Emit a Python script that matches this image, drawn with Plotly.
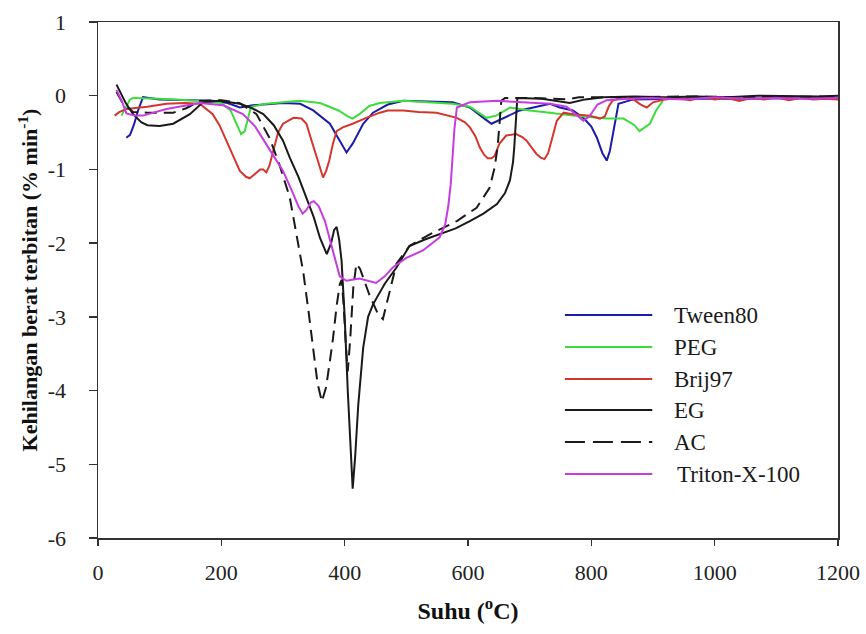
import plotly.graph_objects as go

# ---------------- data ----------------
series_names = ["Tween80", "PEG", "Brij97", "EG", "AC", "Triton-X-100"]

tween80_x = [46, 52, 58, 65, 73, 100, 186, 210, 230, 251, 300, 328, 349, 365, 376, 392, 403, 413, 422, 430,
             446, 470, 495, 575, 603, 615, 625, 638, 657, 684, 733, 749, 770, 787, 800, 809, 818, 825, 830, 834,
             840, 844, 868, 950, 1050, 1200]
tween80_y = [-0.57, -0.53, -0.4, -0.2, -0.02, -0.05, -0.07, -0.1, -0.16, -0.13, -0.1, -0.11, -0.2, -0.3, -0.38,
             -0.61, -0.77, -0.65, -0.5, -0.38, -0.23, -0.12, -0.07, -0.09, -0.16, -0.24, -0.3, -0.38, -0.31, -0.2,
             -0.11, -0.16, -0.2, -0.3, -0.42, -0.57, -0.78, -0.88, -0.75, -0.57, -0.3, -0.11, -0.05, -0.04, -0.04,
             -0.03]

peg_x = [38, 45, 52, 57, 100, 165, 200, 215, 225, 232, 238, 243, 248, 273, 327, 360, 390, 405, 413, 424,
         440, 457, 495, 575, 603, 630, 646, 668, 700, 733, 770, 825, 852, 870, 878, 895, 905, 916]
peg_y = [-0.27, -0.15, -0.05, -0.03, -0.04, -0.07, -0.1, -0.2, -0.4, -0.52, -0.48, -0.3, -0.15, -0.11, -0.07,
         -0.1, -0.2, -0.28, -0.31, -0.25, -0.14, -0.1, -0.07, -0.11, -0.15, -0.3, -0.27, -0.16, -0.2, -0.23,
         -0.27, -0.31, -0.31, -0.4, -0.48, -0.38, -0.2, -0.07]

brij97_x = [27, 35, 46, 80, 111, 140, 165, 186, 197, 208, 220, 230, 240, 246, 252, 257, 263, 268, 273, 278,
            284, 292, 300, 317, 330, 338, 346, 355, 360, 365, 370, 375, 381, 387, 397, 413, 435, 457, 470, 495,
            520, 549, 582, 595, 603, 612, 619, 626, 632, 638, 643, 651, 662, 678, 688, 695, 703, 711, 718, 724,
            730, 737, 744, 755, 770, 797, 814, 822, 828, 834, 850, 870, 880, 890, 900, 920, 940, 960, 980, 1000,
            1020, 1040, 1060, 1080, 1100, 1120, 1140, 1160, 1180, 1200]
brij97_y = [-0.27, -0.22, -0.18, -0.15, -0.11, -0.1, -0.11, -0.25, -0.4, -0.61, -0.85, -1.02, -1.1, -1.12,
            -1.08, -1.04, -1.0, -1.0, -1.04, -0.95, -0.75, -0.5, -0.38, -0.3, -0.31, -0.38, -0.6, -0.84, -1.0,
            -1.11, -1.02, -0.88, -0.65, -0.48, -0.43, -0.38, -0.3, -0.23, -0.2, -0.2, -0.22, -0.23, -0.3, -0.36,
            -0.43, -0.55, -0.7, -0.8, -0.85, -0.85, -0.82, -0.65, -0.54, -0.52, -0.56, -0.61, -0.7, -0.79, -0.84,
            -0.86, -0.78, -0.55, -0.34, -0.23, -0.25, -0.27, -0.31, -0.28, -0.15, -0.07, -0.02, -0.06, -0.12,
            -0.16, -0.09, -0.05, -0.03, -0.06, -0.02, -0.05, -0.03, -0.07, -0.03, -0.05, -0.02, -0.06, -0.03,
            -0.05, -0.04, -0.05]

eg_x = [30, 38, 45, 57, 70, 80, 100, 122, 149, 170, 197, 230, 250, 268, 285, 300, 311, 325, 338, 350,
        360, 371, 378, 383, 387, 391, 395, 400, 405, 410, 413, 417, 422, 430, 438, 446, 465, 484, 505, 530,
        554, 580, 603, 625, 647, 660, 668, 673, 675, 677, 678, 680, 720, 765, 790, 820, 870, 920, 970, 1020,
        1070, 1120, 1170, 1200]
eg_y = [0.15, 0.02, -0.1, -0.25, -0.36, -0.4, -0.41, -0.38, -0.25, -0.09, -0.07, -0.11, -0.17, -0.25, -0.4,
        -0.61, -0.84, -1.1, -1.38, -1.65, -1.93, -2.15, -2.0, -1.82, -1.78, -1.95, -2.24, -3.0, -4.0, -4.9,
        -5.33, -4.9, -4.2, -3.42, -3.0, -2.83, -2.55, -2.33, -2.04, -1.95, -1.88, -1.8, -1.7, -1.6, -1.47,
        -1.32, -1.15, -0.9, -0.7, -0.4, -0.16, -0.03, -0.04, -0.1, -0.05, -0.02, -0.01, -0.02, -0.01, -0.02,
        0.0, -0.01, -0.01, 0.0]

ac_x = [30, 40, 57, 80, 122, 143, 165, 200, 230, 257, 278, 294, 311, 324, 333, 341, 349, 356, 363, 370,
        376, 381, 387, 392, 395, 398, 402, 405, 409, 414, 419, 425, 440, 455, 462, 470, 478, 484, 505, 538,
        582, 614, 635, 643, 648, 651, 654, 660, 700, 760, 780, 850, 950, 1050, 1150, 1200]
ac_y = [0.05, -0.1, -0.22, -0.23, -0.23, -0.17, -0.07, -0.06, -0.1, -0.25, -0.57, -0.93, -1.38, -1.97, -2.4,
        -2.9, -3.46, -3.9, -4.15, -3.95, -3.6, -3.3, -2.85, -2.56, -2.5, -2.8, -3.4, -3.74, -3.3, -2.6, -2.28,
        -2.35, -2.7, -2.98, -3.03, -2.75, -2.45, -2.28, -2.04, -1.88, -1.7, -1.52, -1.25, -0.98, -0.7, -0.34,
        -0.07, -0.03, -0.03, -0.05, -0.02, -0.02, -0.01, -0.02, -0.01, -0.01]

triton_x = [30, 40, 46, 60, 73, 111, 165, 203, 235, 255, 273, 300, 315, 325, 332, 338, 345, 350, 358, 368,
            376, 385, 392, 403, 424, 451, 465, 478, 500, 527, 554, 563, 568, 572, 575, 578, 582, 603, 647, 733,
            760, 775, 787, 797, 810, 825, 860, 900, 950, 1000, 1050, 1100, 1150, 1200]
triton_y = [0.08, -0.1, -0.24, -0.27, -0.27, -0.18, -0.1, -0.13, -0.25, -0.42, -0.66, -1.02, -1.3, -1.5, -1.6,
            -1.55, -1.45, -1.43, -1.5, -1.7, -1.95, -2.25, -2.45, -2.51, -2.48, -2.54, -2.45, -2.33, -2.2, -2.1,
            -1.92, -1.75, -1.5, -1.2, -0.8, -0.45, -0.16, -0.09, -0.07, -0.11, -0.15, -0.25, -0.34, -0.28, -0.12,
            -0.06, -0.04, -0.03, -0.05, -0.02, -0.04, -0.03, -0.04, -0.03]

x_ticks = [0, 200, 400, 600, 800, 1000, 1200]
x_tick_labels = ["0", "200", "400", "600", "800", "1000", "1200"]
y_ticks = [1, 0, -1, -2, -3, -4, -5, -6]
y_tick_labels = ["1", "0", "-1", "-2", "-3", "-4", "-5", "-6"]

# ---------------- styling ----------------
colors = {"Tween80": "#1c1ca8", "PEG": "#3ddc3d", "Brij97": "#d3362c",
          "EG": "#1a1a1a", "AC": "#1a1a1a", "Triton-X-100": "#c63ce0"}
dashes = {"AC": "12px,7px"}
serif = "Liberation Serif, Times New Roman, serif"

data = {
    "Tween80": (tween80_x, tween80_y),
    "PEG": (peg_x, peg_y),
    "Brij97": (brij97_x, brij97_y),
    "EG": (eg_x, eg_y),
    "AC": (ac_x, ac_y),
    "Triton-X-100": (triton_x, triton_y),
}

fig = go.Figure()
for name in series_names:
    xs, ys = data[name]
    fig.add_trace(go.Scatter(
        x=xs, y=ys, mode="lines", name=name,
        line=dict(color=colors[name], width=2, dash=dashes.get(name, "solid")),
        showlegend=False,
    ))

# ---------------- manual legend (long line samples like the reference) ----------------
leg_x0, leg_x1, leg_tx = 0.631, 0.749, 0.776
leg_rows = [0.432, 0.370, 0.308, 0.248, 0.186, 0.124]
for name, yy in zip(series_names, leg_rows):
    fig.add_shape(type="line", xref="paper", yref="paper",
                  x0=leg_x0, x1=leg_x1, y0=yy, y1=yy,
                  line=dict(color=colors[name], width=2,
                            dash="20px,8px" if name == "AC" else "solid"))
    fig.add_annotation(xref="paper", yref="paper", x=leg_tx + (0.004 if name == "Triton-X-100" else 0),
                       y=yy, text=name, showarrow=False, xanchor="left", yanchor="middle",
                       font=dict(family=serif, size=23, color="#1a1a1a"))

axis_common = dict(
    showline=True, linecolor="#333333", linewidth=1.5, mirror=True,
    ticks="outside", tickcolor="#333333", tickwidth=1.5,
    showgrid=False, zeroline=False, automargin=False,
    tickfont=dict(family=serif, size=22, color="#222222"),
)

fig.update_xaxes(range=[0, 1200], tickvals=x_ticks, ticktext=x_tick_labels, ticklen=6, ticklabelstandoff=8,
                 title=dict(text="<b>Suhu (<sup>o</sup>C)</b>", standoff=18,
                            font=dict(family=serif, size=24, color="#111111")),
                 **axis_common)
fig.update_yaxes(range=[-6, 1], tickvals=y_ticks, ticktext=y_tick_labels, ticklen=8, ticklabelstandoff=18,
                 title=dict(text="<b>Kehilangan berat terbitan (% min<sup>-1</sup>)</b>", standoff=4,
                            font=dict(family=serif, size=22, color="#111111")),
                 **axis_common)

fig.update_layout(
    width=866, height=634,
    margin=dict(l=98, r=28, t=22, b=96),
    plot_bgcolor="white", paper_bgcolor="white",
    showlegend=False,
)

# remove the browser's default 8px page margin so the figure fills the window exactly
fig.write_html("out.html",
               config={"displayModeBar": False, "staticPlot": True},
               post_script="document.body.style.margin='0';document.body.style.overflow='hidden';")
